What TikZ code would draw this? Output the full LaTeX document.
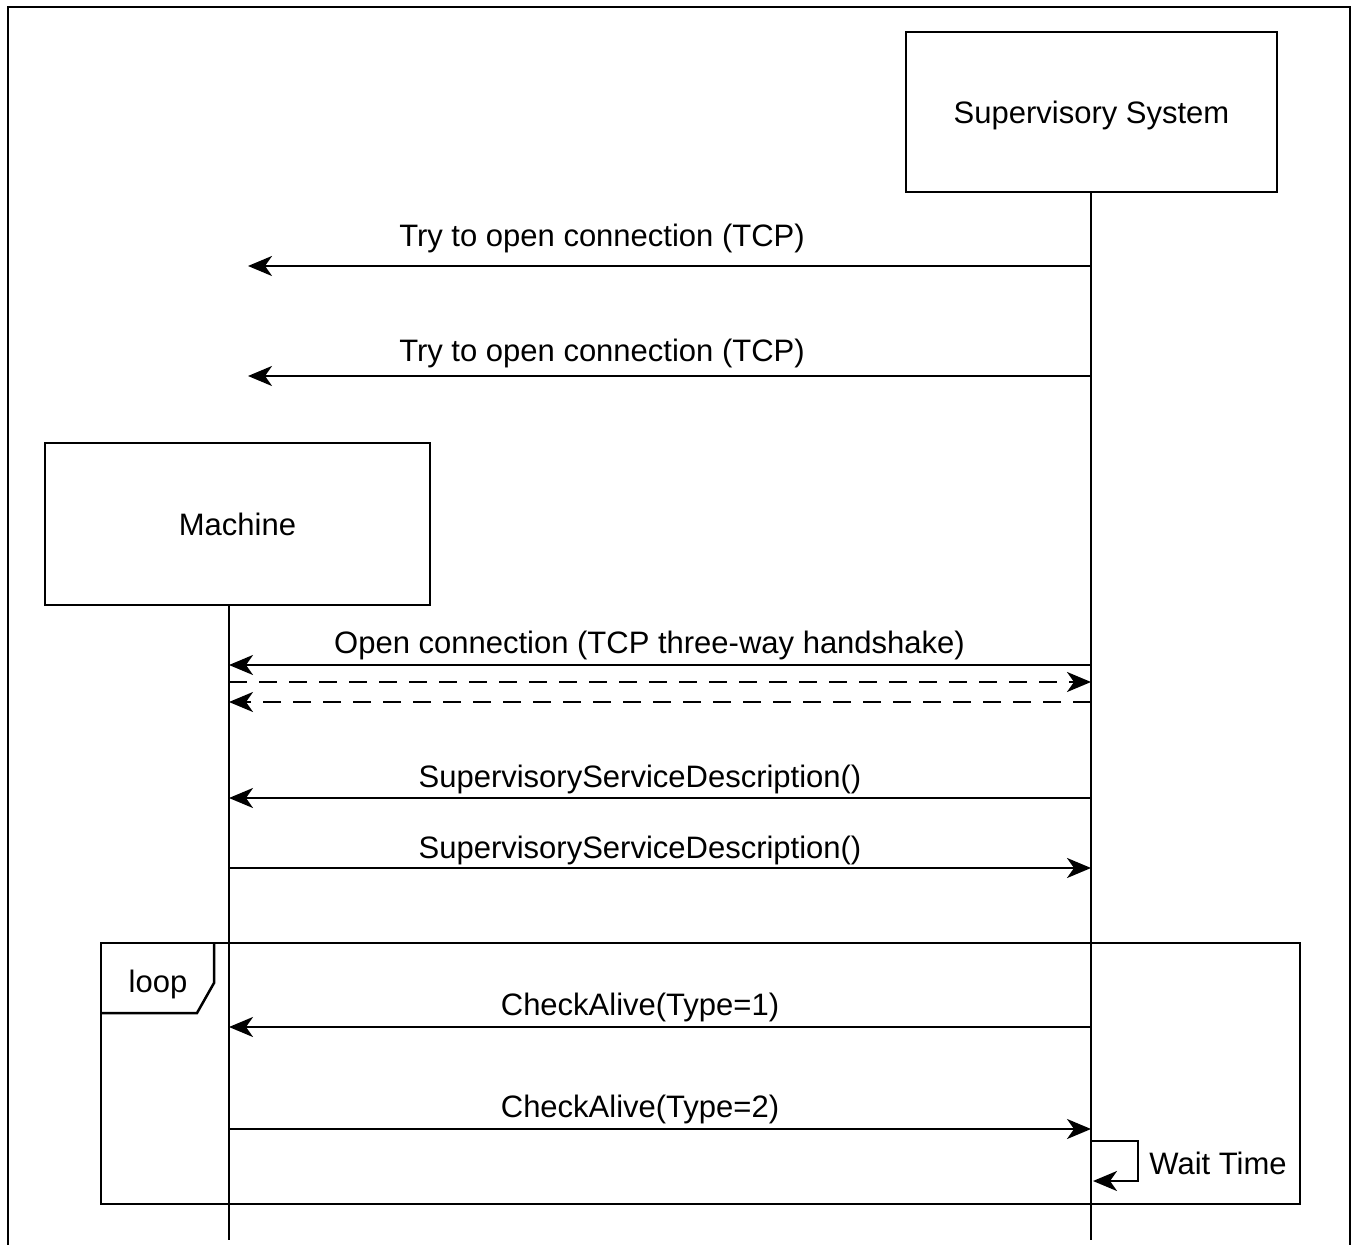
\documentclass[tikz,border=0pt]{standalone}
\usepackage{fontspec}
\setmainfont{Liberation Sans}
\usetikzlibrary{arrows.meta}

\begin{document}
\begin{tikzpicture}[x=0.5pt, y=-0.5pt]
\tikzset{acteur/.style={draw, line width=1.25pt, inner sep=0pt, text depth=0pt, font=\fontsize{15.5}{18}\selectfont},
  fleche/.style={line width=1.25pt, -{Stealth[length=12pt, width=10pt, inset=3.5pt]}},
  pointille/.style={fleche, dash pattern=on 9pt off 6pt},
  etiquette/.style={anchor=base, inner sep=0pt, font=\fontsize{15.5}{18}\selectfont}}
\useasboundingbox (0,0) rectangle (1352,1245);
\draw[line width=1pt] (8,1245) -- (8,7) -- (1350,7) -- (1350,1245);
% participants
\node[acteur, minimum width=185.5pt, minimum height=80pt] (Sup) at (1091.5,112) {Supervisory System};
\node[acteur, minimum width=192.5pt, minimum height=81pt] (Mach) at (237.5,524) {Machine};
\coordinate (SupFin) at (1091,1240);
\coordinate (MachHaut) at (229,605);
\coordinate (MachFin) at (229,1240);
\draw[line width=1.25pt] (Sup.south -| SupFin) -- (SupFin);
\draw[line width=1.25pt] (MachHaut) -- (MachFin);
% loop frame
\draw[line width=1.25pt] (101,943) rectangle (1300,1204);
\draw[line width=1.25pt] (101,1013) -- (197,1013) -- (214,983) -- (214,943);
\node[etiquette] (Boucle) at (158,992) {loop};
% messages
\coordinate (S1) at (1091,266); \coordinate (M1) at (248,266);
\coordinate (S2) at (1091,376); \coordinate (M2) at (248,376);
\coordinate (S3) at (1091,665); \coordinate (M3) at (229,665);
\coordinate (S4) at (1091,682); \coordinate (M4) at (229,682);
\coordinate (S5) at (1091,702); \coordinate (M5) at (229,702);
\coordinate (S6) at (1091,798); \coordinate (M6) at (229,798);
\coordinate (S7) at (1091,868); \coordinate (M7) at (229,868);
\coordinate (S8) at (1091,1027); \coordinate (M8) at (229,1027);
\coordinate (S9) at (1091,1129); \coordinate (M9) at (229,1129);
\coordinate (W1) at (1091,1141); \coordinate (W2) at (1093,1181);
\draw[fleche] (S1) -- (M1);
\draw[fleche] (S2) -- (M2);
\draw[fleche] (S3) -- (M3);
\draw[pointille] (M4) -- (S4);
\draw[pointille] (S5) -- (M5);
\draw[fleche] (S6) -- (M6);
\draw[fleche] (M7) -- (S7);
\draw[fleche] (S8) -- (M8);
\draw[fleche] (M9) -- (S9);
\draw[fleche] (W1) -- ++(47,0) |- (W2);
% labels
\node[etiquette] (L1) at (602,247) {Try to open connection (TCP)};
\node[etiquette] (L2) at (602,362) {Try to open connection (TCP)};
\node[etiquette] (L3) at (649.5,653) {Open connection (TCP three-way handshake)};
\node[etiquette] (L6) at (640,787) {SupervisoryServiceDescription()};
\node[etiquette] (L7) at (640,858) {SupervisoryServiceDescription()};
\node[etiquette] (L8) at (640,1015) {CheckAlive(Type=1)};
\node[etiquette] (L9) at (640,1117) {CheckAlive(Type=2)};
\node[etiquette, anchor=base west] (Attente) at (1149,1174) {Wait Time};
\end{tikzpicture}
\end{document}
